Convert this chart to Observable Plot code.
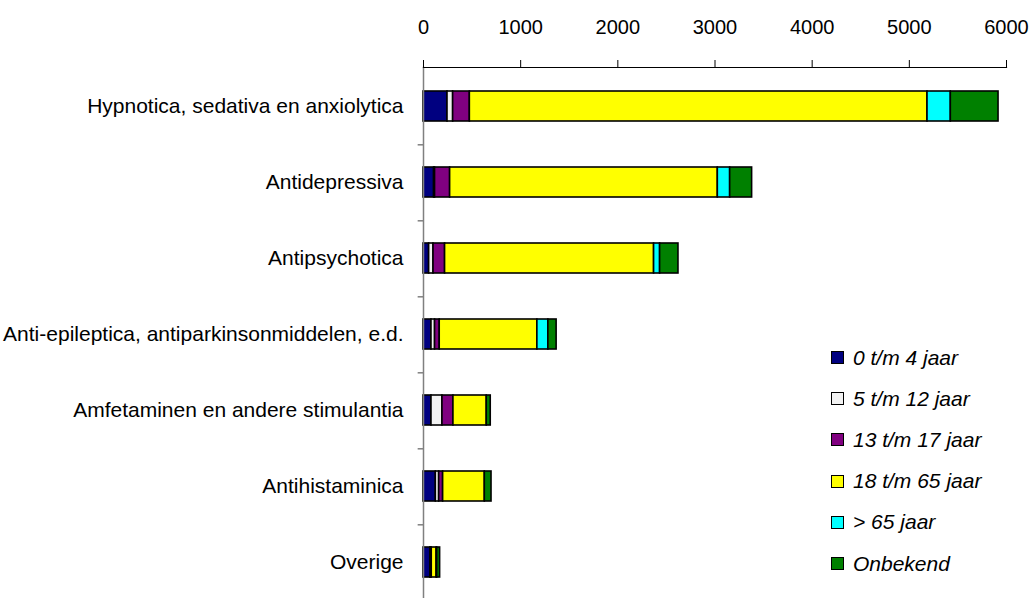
<!DOCTYPE html>
<html><head><meta charset="utf-8">
<script src="https://cdn.jsdelivr.net/npm/d3@7"></script>
<script src="https://cdn.jsdelivr.net/npm/@observablehq/plot@0.6"></script>
<style>
body{margin:0;background:#fff;font-family:"Liberation Sans",Arial,sans-serif;}
#wrap{position:relative;width:1030px;height:598px;overflow:hidden;}
#legend{position:absolute;left:831px;top:337px;font-style:italic;font-size:21px;color:#000;}
.item{display:flex;align-items:center;height:41.2px;}
.sw{width:11px;height:11px;border:1.5px solid #000;margin-right:9px;}
</style></head><body><div id="wrap"></div>
<script>
const categories = ["Hypnotica, sedativa en anxiolytica","Antidepressiva","Antipsychotica","Anti-epileptica, antiparkinsonmiddelen, e.d.","Amfetaminen en andere stimulantia","Antihistaminica","Overige"];
const groups = ["0 t/m 4 jaar","5 t/m 12 jaar","13 t/m 17 jaar","18 t/m 65 jaar","> 65 jaar","Onbekend"];
const colors = ["#000080","#f2f2f2","#800080","#ffff00","#00ffff","#008000"];
const age0to4 = [247,109,58,82,82,127,70];
const age5to12 = [58,10,45,37,113,34,5];
const age13to17 = [172,155,119,48,113,41,10];
const age18to65 = [4710,2755,2151,1005,343,429,50];
const age65plus = [240,127,62,113,0,0,6];
const unknown = [491,226,189,85,41,69,30];
const xTicks = [0,1000,2000,3000,4000,5000,6000];

const series = [age0to4,age5to12,age13to17,age18to65,age65plus,unknown];
const rows = [];
series.forEach((vals,gi)=>vals.forEach((v,ci)=>rows.push({category:categories[ci],group:groups[gi],value:v})));

const chart = Plot.plot({
  width:1030, height:598,
  marginLeft:423, marginRight:24, marginTop:67, marginBottom:0,
  style:{fontFamily:"'Liberation Sans',Arial,sans-serif",fontSize:"21px",color:"#000",background:"#fff",overflow:"visible"},
  x:{domain:[0,6000]},
  y:{domain:categories,range:[65.3,602],paddingInner:0.61,paddingOuter:0.305},
  color:{domain:groups,range:colors},
  marks:[
    Plot.barX(rows,{y:"category",x:"value",fill:"group",stroke:"#000",strokeWidth:1.6,order:groups}),
    Plot.frame({anchor:"left",stroke:"#808080",strokeWidth:1.5}),
    Plot.ruleY(categories,{y:d=>d,dy:38.3,x1:-55,x2:0,stroke:"#808080",strokeWidth:1.5}),
    Plot.frame({anchor:"top",stroke:"#000",strokeWidth:1.2}),
    Plot.axisX({anchor:"top",ticks:xTicks,tickSize:8,tickPadding:26,fontSize:20,tickFormat:d3.format("d"),label:null,stroke:"#000"}),
    Plot.axisY({anchor:"left",tickSize:0,tickPadding:20,label:null})
  ]
});
const wrap = document.getElementById("wrap");
wrap.appendChild(chart);
const legend = document.createElement("div");
legend.id = "legend";
groups.forEach((g,i)=>{
  const it = document.createElement("div"); it.className="item";
  const sw = document.createElement("span"); sw.className="sw"; sw.style.background=colors[i];
  const t = document.createElement("span"); t.textContent=g;
  it.appendChild(sw); it.appendChild(t); legend.appendChild(it);
});
wrap.appendChild(legend);
</script></body></html>
